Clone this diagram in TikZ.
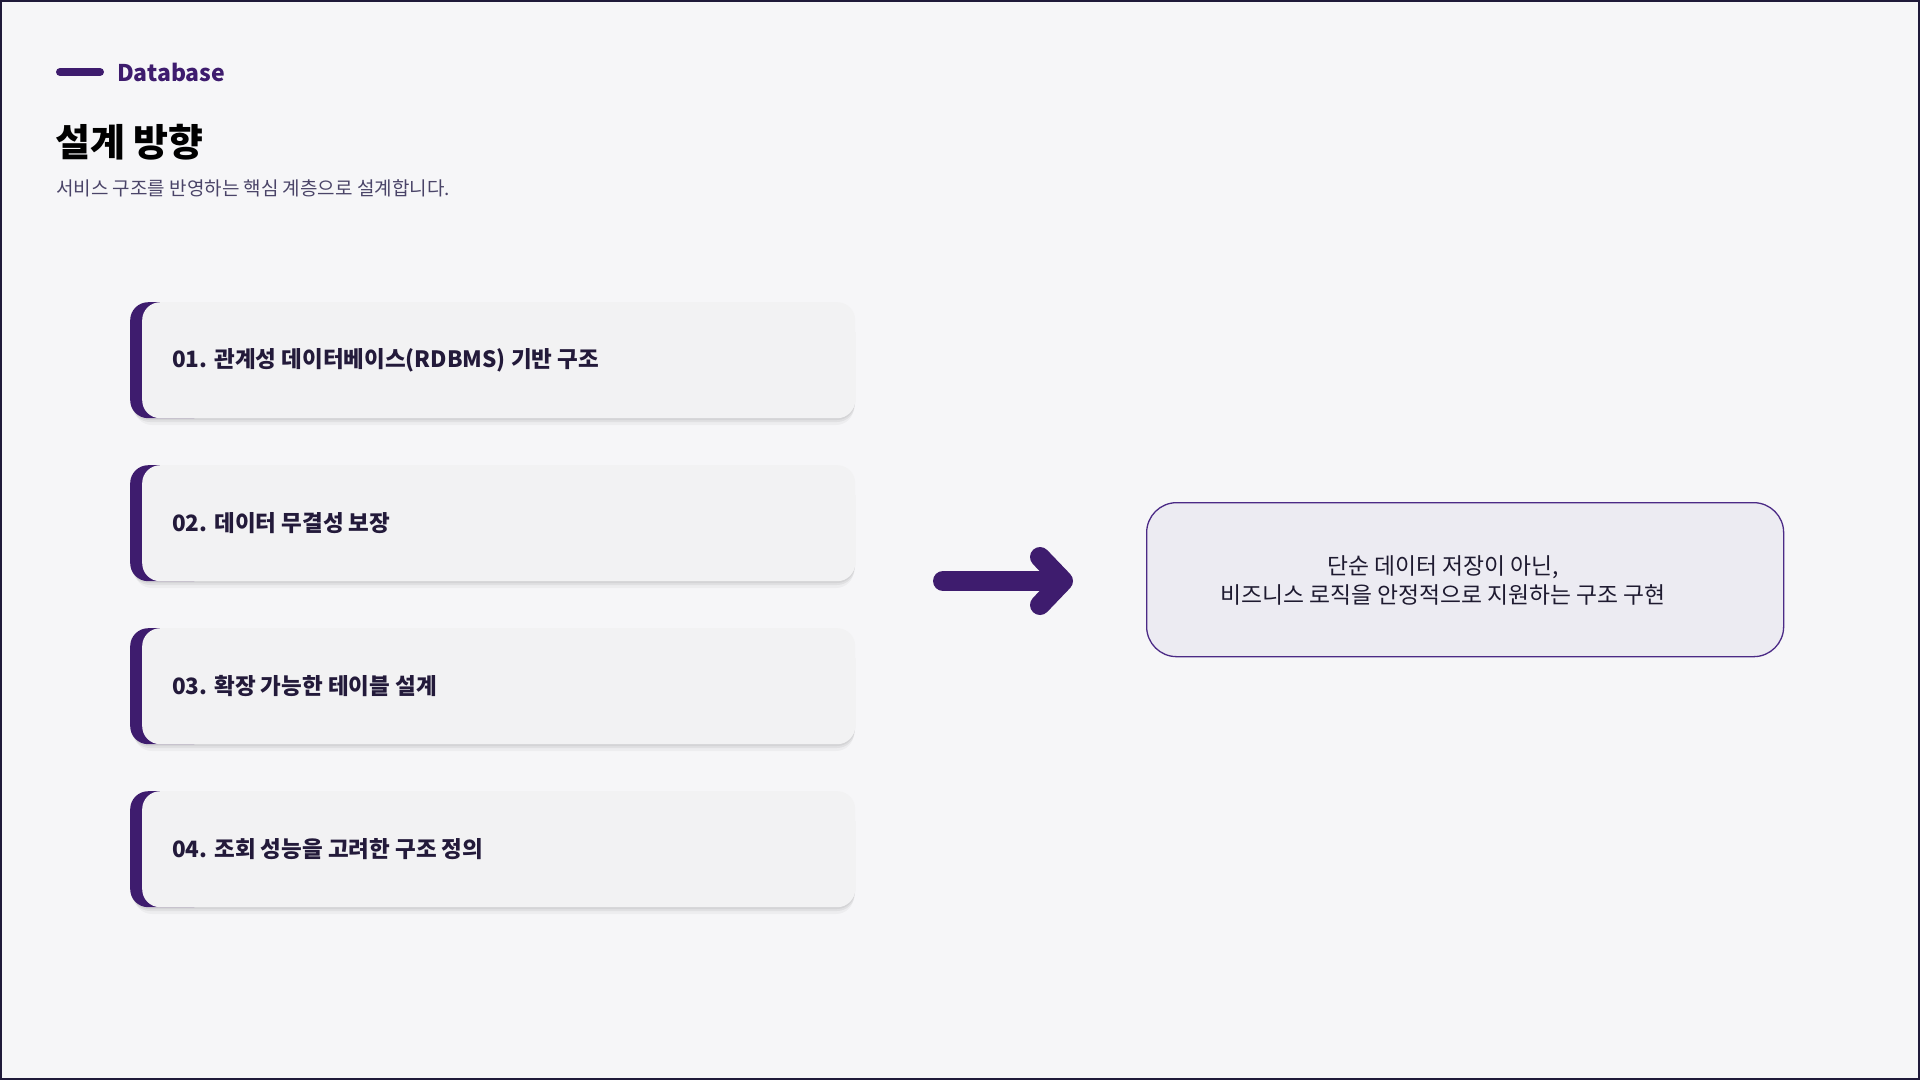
\documentclass[tikz,border=0pt]{standalone}
\usepackage{fontspec}
\setmainfont{Noto Sans CJK KR}
\definecolor{bgc}{HTML}{F6F6F8}
\definecolor{framec}{HTML}{1F1A3A}
\definecolor{accent}{HTML}{3E1C6E}
\definecolor{cardfill}{HTML}{F2F2F3}
\definecolor{cardtext}{HTML}{231A3A}
\definecolor{subc}{HTML}{4A4468}
\definecolor{boxfill}{HTML}{ECEBF2}
\definecolor{boxline}{HTML}{4B2A86}
\definecolor{restext}{HTML}{1E1A30}
\tikzset{
  backplate/.style={fill=accent, rounded corners=18pt, minimum width=80pt, minimum height=116pt, anchor=north west, inner sep=0pt},
  cardbox/.style={fill=cardfill, rounded corners=18pt, minimum width=713pt, minimum height=116pt, anchor=north west, inner sep=0pt},
  cardshadow/.style={fill=black, rounded corners=18pt},
  cardlabel/.style={anchor=west, text=cardtext, font=\fontsize{22.5}{26}\selectfont\bfseries, inner sep=0pt},
  resultbox/.style={fill=boxfill, draw=boxline, line width=1.3pt, rounded corners=30pt, minimum width=637pt, minimum height=154pt, anchor=north west, inner sep=0pt},
  resultlabel/.style={align=center, text=restext, font=\fontsize{22.8}{29}\selectfont, inner sep=0pt},
  arrowline/.style={draw=accent, line width=20pt, line cap=round, line join=round}
}
\begin{document}
\begin{tikzpicture}[x=1pt,y=-1pt]
\fill[bgc] (0,0) rectangle (1920,1080);
\useasboundingbox (0,0) rectangle (1920,1080);
\draw[framec, line width=2pt] (1,1) rectangle (1919,1079);

% header
\draw[accent, line width=8pt, line cap=round] (60,72) -- (100,72);
\node[anchor=base west, inner sep=0pt, text=accent, font=\fontsize{23}{26}\selectfont\bfseries] (db) at (117,81) {Database};
\node[anchor=base west, inner sep=0pt, text=black, font=\fontsize{38}{44}\selectfont\bfseries] (title) at (55,156) {설계 방향};
\node[anchor=base west, inner sep=0pt, text=subc, font=\fontsize{19}{22}\selectfont] (sub) at (56,195) {서비스 구조를 반영하는 핵심 계층으로 설계합니다.};

% cards
\foreach \i/\y/\t in {1/302/{01. 관계성 데이터베이스(RDBMS) 기반 구조},
                      2/465/{02. 데이터 무결성 보장},
                      3/628/{03. 확장 가능한 테이블 설계},
                      4/791/{04. 조회 성능을 고려한 구조 정의}} {
  \fill[cardshadow, opacity=0.035] (134,\y+14) rectangle (854,\y+123);
  \fill[cardshadow, opacity=0.05] (132,\y+12) rectangle (855,\y+120);
  \fill[cardshadow, opacity=0.05] (131,\y+12) rectangle (855,\y+118);
  \node[backplate] (p\i) at (130,\y) {};
  \node[cardbox] (c\i) at (142,\y) {};
  \node[cardlabel] (t\i) at (172,\y+58) {\t};
}

% arrow
\coordinate (as) at (943,581);
\coordinate (ae) at (1060,581);
\coordinate (ht) at (1063,581);
\coordinate (hu) at (1040,557);
\coordinate (hd) at (1040,605);
\draw[arrowline] (as) -- (ae);
\draw[arrowline] (hu) -- (ht) -- (hd);

% result box
\node[resultbox] (res) at (1146,502) {};
\node[resultlabel] (rt) at (1443,580) {단순 데이터 저장이 아닌,\\비즈니스 로직을 안정적으로 지원하는 구조 구현};
\end{tikzpicture}
\end{document}
